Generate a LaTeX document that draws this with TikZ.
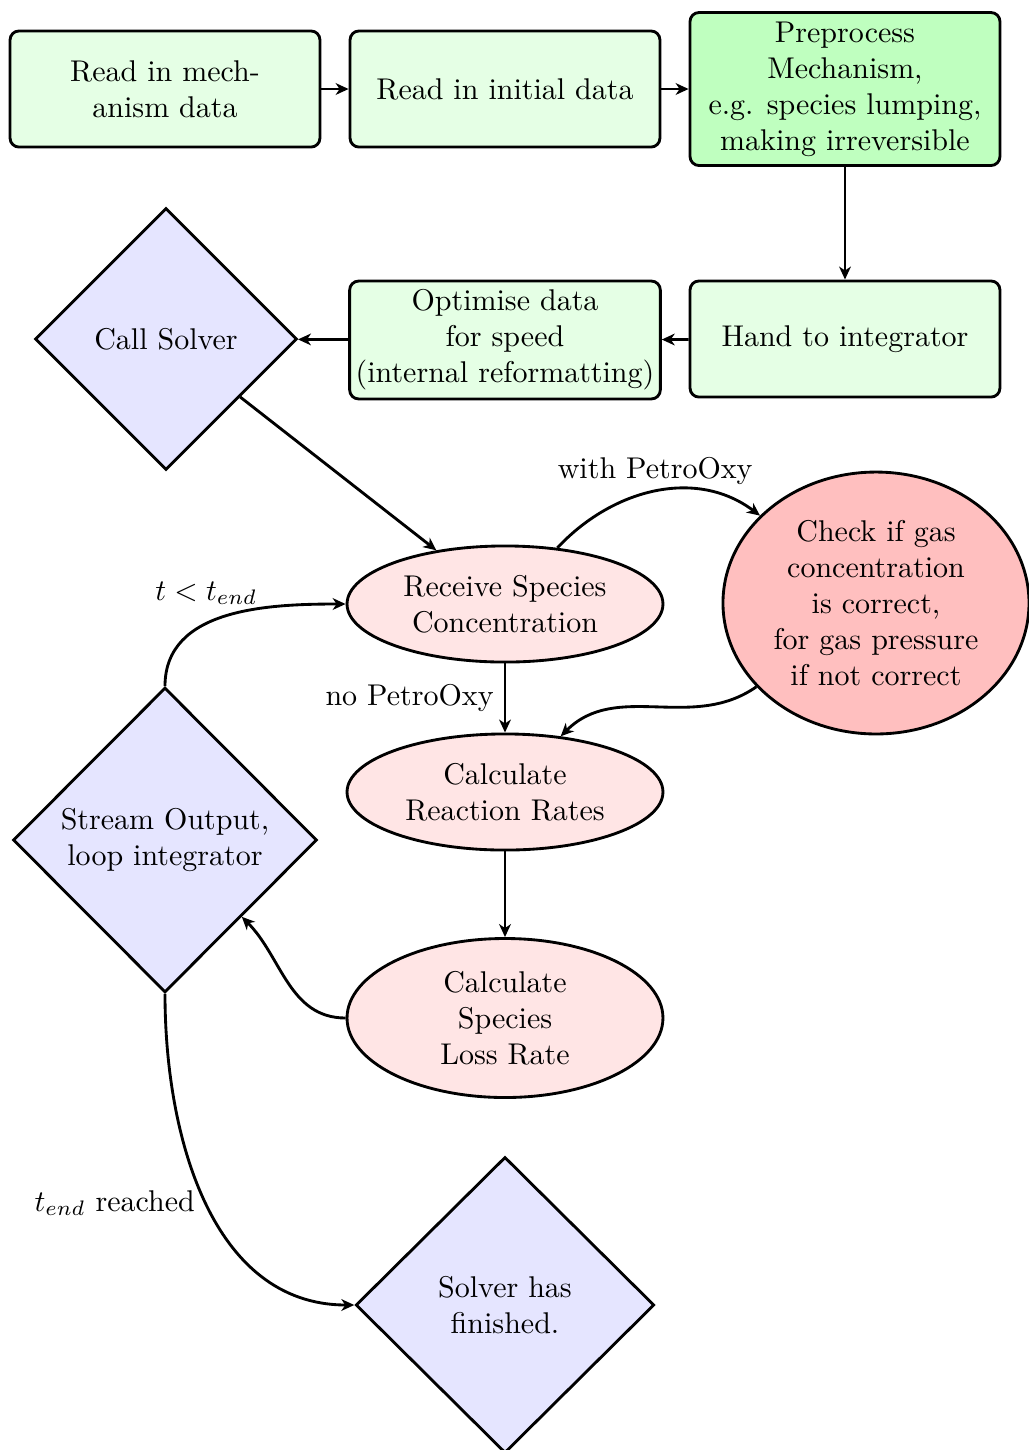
\documentclass[tikz,border=0pt]{standalone}
\usetikzlibrary{shapes.geometric,arrows.meta}
\begin{document}
\begin{tikzpicture}[x=0.3333pt,y=-0.3333pt,
 procbox/.style={draw, line width=0.95pt, rounded corners=3pt, fill=green!10, align=center, minimum width=103.3pt, minimum height=38.7pt, inner sep=2pt},
 decbox/.style={diamond, draw, line width=0.95pt, fill=blue!10, align=center, inner sep=1pt},
 ellbox/.style={ellipse, draw, line width=0.95pt, fill=red!10, align=center, inner sep=1pt},
 arr/.style={line width=0.95pt, -{Stealth[length=4.3pt,width=3.9pt,inset=1.3pt]}}
]
\useasboundingbox (0,0) rectangle (1029,1450);
% nodes
\node[procbox] (b1) at (165,89) {Read in mech-\\anism data};
\node[procbox] (b2) at (505,89) {Read in initial data};
\node[procbox, fill=green!25, minimum height=51pt] (b3) at (845,89) {Preprocess\\Mechanism,\\e.g. species lumping,\\making irreversible};
\node[procbox] (b4) at (845,339) {Hand to integrator};
\node[procbox, minimum height=39.3pt] (b5) at (505,340) {Optimise data\\for speed\\(internal reformatting)};
\node[decbox, minimum width=87.3pt, minimum height=87.3pt] (solver) at (166,339) {Call Solver};
\node[ellbox, minimum width=105.3pt, minimum height=38.7pt] (receive) at (505,604) {Receive Species\\Concentration};
\node[ellbox, fill=red!25, minimum width=102pt, minimum height=87.3pt] (check) at (876,603) {Check if gas\\concentration\\is correct,\\for gas pressure\\if not correct};
\node[ellbox, minimum width=105.3pt, minimum height=38.7pt] (rates) at (505,792) {Calculate\\Reaction Rates};
\node[ellbox, minimum width=105.3pt, minimum height=53pt] (loss) at (505,1018) {Calculate\\Species\\Loss Rate};
\node[decbox, minimum width=101.3pt, minimum height=101.6pt] (stream) at (165,840) {Stream Output,\\loop integrator};
\node[decbox, minimum width=99.5pt, minimum height=98.7pt] (finished) at (505,1305) {Solver has\\finished.};
% connectors
\draw[arr] (b1) -- (b2);
\draw[arr] (b2) -- (b3);
\draw[arr] (b3) -- (b4);
\draw[arr] (b4) -- (b5);
\draw[arr] (b5) -- (solver);
\draw[arr] (solver) -- (receive);
\draw[arr] (receive) to[out=47,in=143] node[pos=0.5,above=-1.5pt] {with PetroOxy} (check);
\draw[arr] (check) to[out=215,in=45] (rates);
\draw[arr] (receive) -- node[left] {no PetroOxy} (rates);
\draw[arr] (rates) -- (loss);
\draw[arr] (loss) to[out=180,in=-45] (stream);
\draw[arr] (stream) to[out=90,in=180] node[pos=0.4,above=2.5pt] {$t<t_{end}$} (receive);
\draw[arr] (stream) to[out=-90,in=180] node[pos=0.5,left] {$t_{end}$ reached} (finished);
\end{tikzpicture}
\end{document}
